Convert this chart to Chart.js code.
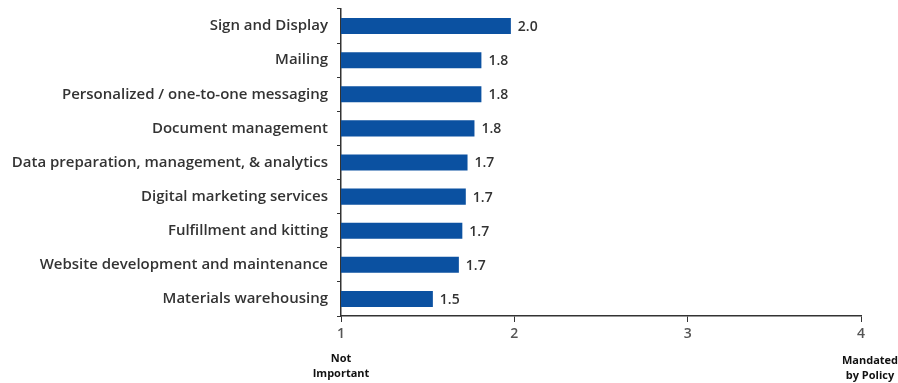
<!DOCTYPE html>
<html>
<head>
<meta charset="utf-8">
<script src="https://cdn.jsdelivr.net/npm/chart.js@4"></script>
<style>
  html, body { margin: 0; padding: 0; background: #fff; }
  #wrap { width: 898px; height: 383px; }
</style>
</head>
<body>
<div id="wrap"><canvas id="chart"></canvas></div>
<script>
const categories = [
  'Sign and Display',
  'Mailing',
  'Personalized / one-to-one messaging',
  'Document management',
  'Data preparation, management, & analytics',
  'Digital marketing services',
  'Fulfillment and kitting',
  'Website development and maintenance',
  'Materials warehousing'
]
const scores = [1.98, 1.81, 1.81, 1.77, 1.73, 1.72, 1.70, 1.68, 1.53]
const scaleTicks = [1, 2, 3, 4]
const scaleEndLabels = [
  { value: 1, shift: 0, lines: ['Not', 'Important'] },
  { value: 4, shift: 9, lines: ['Mandated', 'by Policy'] }
]

const barColor = '#0b51a1'
const textColor = '#333'
const fontFamily = '"Open Sans", Lato, sans-serif'

const valueLabels = {
  id: 'valueLabels',
  afterDatasetsDraw(chart) {
    const ctx = chart.ctx
    const meta = chart.getDatasetMeta(0)
    ctx.save()
    ctx.font = '600 14px ' + fontFamily
    ctx.fillStyle = textColor
    ctx.textAlign = 'left'
    ctx.textBaseline = 'middle'
    meta.data.forEach((bar, i) => {
      ctx.fillText(scores[i].toFixed(1), bar.x + 7, bar.y + 1)
    })
    ctx.restore()
  }
}

const endLabels = {
  id: 'endLabels',
  afterDraw(chart) {
    const ctx = chart.ctx
    const x = chart.scales.x
    ctx.save()
    ctx.font = 'bold 11px ' + fontFamily
    ctx.fillStyle = '#111'
    ctx.textAlign = 'center'
    ctx.textBaseline = 'middle'
    scaleEndLabels.forEach(item => {
      const px = x.getPixelForValue(item.value) + item.shift
      const top = item.shift ? 361 : 359
      item.lines.forEach((line, j) => {
        ctx.fillText(line, px, top + j * 15)
      })
    })
    ctx.restore()
  }
}

new Chart(document.getElementById('chart'), {
  type: 'bar',
  data: {
    labels: categories,
    datasets: [{
      data: scores,
      backgroundColor: barColor,
      barPercentage: 0.94,
      categoryPercentage: 0.5
    }]
  },
  options: {
    indexAxis: 'y',
    responsive: true,
    maintainAspectRatio: false,
    animation: false,
    layout: { padding: { top: 9, right: 37, left: 0, bottom: 0 } },
    plugins: {
      legend: { display: false },
      tooltip: { enabled: false }
    },
    scales: {
      x: {
        min: 1,
        max: 4,
        afterBuildTicks: scale => { scale.ticks = scaleTicks.map(v => ({ value: v })) },
        afterFit: scale => { scale.height = 67 },
        ticks: {
          color: '#555',
          font: { family: fontFamily, size: 14, weight: '600' },
          padding: 4
        },
        grid: { drawOnChartArea: false, drawTicks: true, tickLength: 6, color: '#333' },
        border: { display: true, color: '#333', width: 1.5 }
      },
      y: {
        afterFit: scale => {
          scale.width = 341
          scale.paddingTop = 0
          scale.paddingBottom = 0
        },
        ticks: {
          color: textColor,
          font: { family: fontFamily, size: 15, weight: '600' },
          padding: 9
        },
        grid: { drawOnChartArea: false, drawTicks: true, tickLength: 4, color: '#333' },
        border: { display: true, color: '#333', width: 1.5 }
      }
    }
  },
  plugins: [valueLabels, endLabels]
})
</script>
</body>
</html>
